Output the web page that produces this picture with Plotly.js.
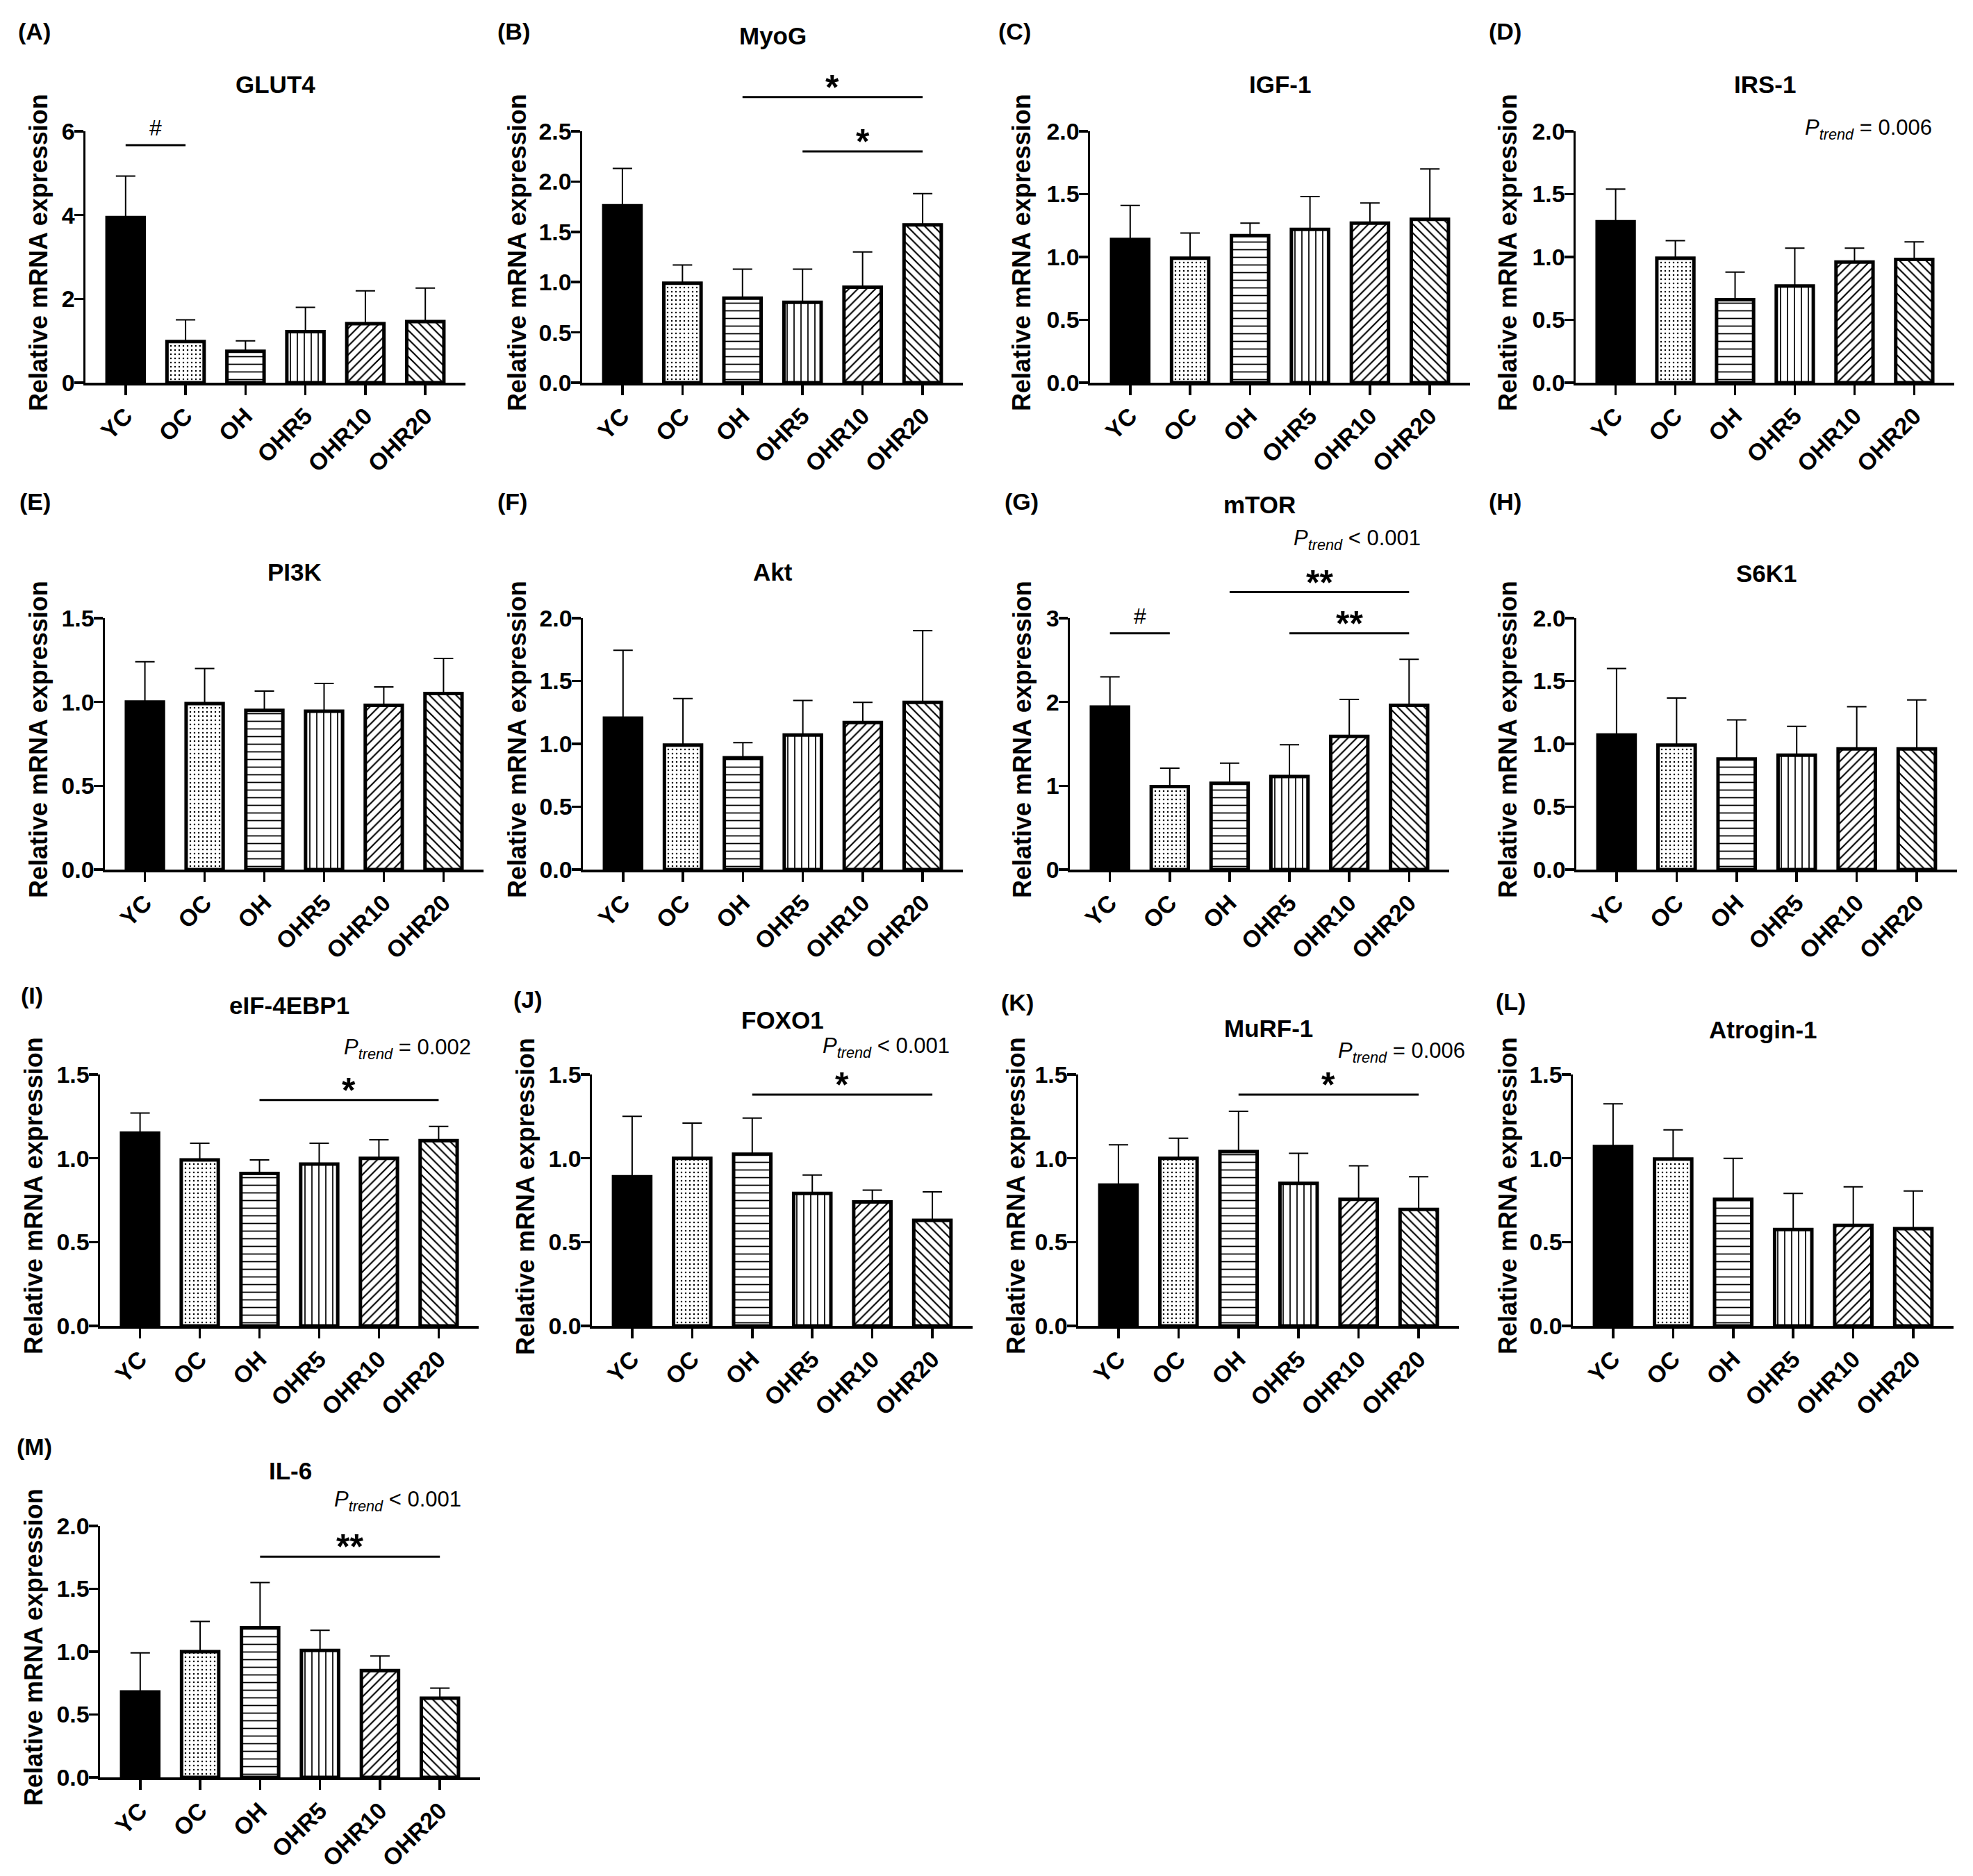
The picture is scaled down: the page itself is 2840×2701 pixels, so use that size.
<!DOCTYPE html>
<html>
<head>
<meta charset="utf-8">
<script src="https://cdn.plot.ly/plotly-3.0.1.min.js"></script>
<style>
  html, body { margin: 0; padding: 0; background: #ffffff; }
  #chart { width: 2840px; height: 2701px; }
</style>
</head>
<body>
<div id="chart"></div>
<script>
// Treatment groups (x categories shared by every panel)
const groups = ['YC', 'OC', 'OH', 'OHR5', 'OHR10', 'OHR20'];

// Relative mRNA expression: group means and SD (upper error bar length)
const glut4Mean = [3.94, 0.98, 0.75, 1.22, 1.41, 1.46];
const glut4Sd   = [0.99, 0.52, 0.25, 0.58, 0.78, 0.80];
const myogMean  = [1.76, 0.99, 0.84, 0.80, 0.95, 1.57];
const myogSd    = [0.37, 0.18, 0.29, 0.33, 0.35, 0.31];
const igf1Mean  = [1.14, 0.99, 1.17, 1.22, 1.27, 1.30];
const igf1Sd    = [0.27, 0.20, 0.10, 0.26, 0.16, 0.40];
const irs1Mean  = [1.28, 0.99, 0.66, 0.77, 0.96, 0.98];
const irs1Sd    = [0.26, 0.14, 0.22, 0.30, 0.11, 0.14];
const pi3kMean  = [1.00, 0.99, 0.95, 0.945, 0.98, 1.05];
const pi3kSd    = [0.24, 0.21, 0.115, 0.165, 0.11, 0.21];
const aktMean   = [1.205, 0.99, 0.89, 1.07, 1.17, 1.33];
const aktSd     = [0.54, 0.37, 0.12, 0.275, 0.16, 0.57];
const mtorMean  = [1.94, 0.99, 1.03, 1.11, 1.59, 1.96];
const mtorSd    = [0.36, 0.22, 0.24, 0.38, 0.44, 0.55];
const s6k1Mean  = [1.07, 0.99, 0.88, 0.91, 0.96, 0.96];
const s6k1Sd    = [0.53, 0.375, 0.31, 0.23, 0.335, 0.39];
const eif4ebp1Mean = [1.15, 0.99, 0.91, 0.965, 1.00, 1.105];
const eif4ebp1Sd   = [0.12, 0.10, 0.08, 0.125, 0.11, 0.085];
const foxo1Mean = [0.89, 1.00, 1.025, 0.79, 0.74, 0.63];
const foxo1Sd   = [0.36, 0.21, 0.215, 0.11, 0.07, 0.17];
const murf1Mean = [0.84, 1.00, 1.04, 0.85, 0.755, 0.695];
const murf1Sd   = [0.24, 0.12, 0.24, 0.18, 0.20, 0.195];
const atroginMean = [1.07, 0.995, 0.755, 0.575, 0.60, 0.58];
const atroginSd   = [0.255, 0.175, 0.245, 0.215, 0.23, 0.225];
const il6Mean   = [0.68, 1.00, 1.19, 1.01, 0.85, 0.63];
const il6Sd     = [0.31, 0.24, 0.36, 0.16, 0.115, 0.08];

// Y tick values and labels
const ticks6    = [0, 2, 4, 6];
const ticks6Txt = ['0', '2', '4', '6'];
const ticks3    = [0, 1, 2, 3];
const ticks3Txt = ['0', '1', '2', '3'];
const ticks25    = [0, 0.5, 1, 1.5, 2, 2.5];
const ticks25Txt = ['0.0', '0.5', '1.0', '1.5', '2.0', '2.5'];
const ticks20    = [0, 0.5, 1, 1.5, 2];
const ticks20Txt = ['0.0', '0.5', '1.0', '1.5', '2.0'];
const ticks15    = [0, 0.5, 1, 1.5];
const ticks15Txt = ['0.0', '0.5', '1.0', '1.5'];

// Significance brackets: [from group, to group, height, symbol]
const glut4Sig = [['YC', 'OC', 5.67, '#']];
const myogSig  = [['OH', 'OHR20', 2.84, '*'], ['OHR5', 'OHR20', 2.30, '*']];
const mtorSig  = [['YC', 'OC', 2.82, '#'], ['OHR5', 'OHR20', 2.82, '**'], ['OH', 'OHR20', 3.31, '**']];
const eifSig   = [['OH', 'OHR20', 1.348, '*']];
const foxo1Sig = [['OH', 'OHR20', 1.38, '*']];
const murf1Sig = [['OH', 'OHR20', 1.38, '*']];
const il6Sig   = [['OH', 'OHR20', 1.755, '**']];

// Trend test results
const trendIrs1 = '= 0.006';
const trendMtor = '< 0.001';
const trendEif  = '= 0.002';
const trendFoxo = '< 0.001';
const trendMurf = '= 0.006';
const trendIl6  = '< 0.001';

// Panel layout in pixels: plot box (left, right, top tick, baseline),
// title centre y, panel letter (left x, centre y), y-title centre x
const panels = [
  {tag: '(A)', gene: 'GLUT4',     mean: glut4Mean, sd: glut4Sd, ymax: 6,   tv: ticks6,  tt: ticks6Txt,  sig: glut4Sig, box: [123, 670, 189, 551],   ttl: 121,  lab: [24, 45],    yt: 55},
  {tag: '(B)', gene: 'MyoG',      mean: myogMean,  sd: myogSd,  ymax: 2.5, tv: ticks25, tt: ticks25Txt, sig: myogSig,  box: [838, 1386, 189, 551],  ttl: 52,   lab: [714, 45],   yt: 744},
  {tag: '(C)', gene: 'IGF-1',     mean: igf1Mean,  sd: igf1Sd,  ymax: 2,   tv: ticks20, tt: ticks20Txt, sig: [],       box: [1569, 2116, 189, 551], ttl: 121,  lab: [1435, 45],  yt: 1470},
  {tag: '(D)', gene: 'IRS-1',     mean: irs1Mean,  sd: irs1Sd,  ymax: 2,   tv: ticks20, tt: ticks20Txt, sig: [],       box: [2268, 2813, 189, 551], ttl: 121,  lab: [2141, 45],  yt: 2170, trend: trendIrs1, tpos: [2783, 186]},
  {tag: '(E)', gene: 'PI3K',      mean: pi3kMean,  sd: pi3kSd,  ymax: 1.5, tv: ticks15, tt: ticks15Txt, sig: [],       box: [151, 696, 890, 1252],  ttl: 823,  lab: [26, 722],   yt: 55},
  {tag: '(F)', gene: 'Akt',       mean: aktMean,   sd: aktSd,   ymax: 2,   tv: ticks20, tt: ticks20Txt, sig: [],       box: [839, 1386, 890, 1252], ttl: 824,  lab: [714, 722],  yt: 744},
  {tag: '(G)', gene: 'mTOR',      mean: mtorMean,  sd: mtorSd,  ymax: 3,   tv: ticks3,  tt: ticks3Txt,  sig: mtorSig,  box: [1540, 2086, 890, 1252], ttl: 726, lab: [1444, 722], yt: 1471, trend: trendMtor, tpos: [2047, 777]},
  {tag: '(H)', gene: 'S6K1',      mean: s6k1Mean,  sd: s6k1Sd,  ymax: 2,   tv: ticks20, tt: ticks20Txt, sig: [],       box: [2269, 2817, 890, 1252], ttl: 825, lab: [2141, 722], yt: 2170},
  {tag: '(I)', gene: 'eIF-4EBP1', mean: eif4ebp1Mean, sd: eif4ebp1Sd, ymax: 1.5, tv: ticks15, tt: ticks15Txt, sig: eifSig, box: [144, 689, 1547, 1909], ttl: 1447, lab: [28, 1433], yt: 48, trend: trendEif, tpos: [680, 1510]},
  {tag: '(J)', gene: 'FOXO1',     mean: foxo1Mean, sd: foxo1Sd, ymax: 1.5, tv: ticks15, tt: ticks15Txt, sig: foxo1Sig, box: [852, 1400, 1547, 1909], ttl: 1469, lab: [737, 1439], yt: 756, trend: trendFoxo, tpos: [1369, 1508]},
  {tag: '(K)', gene: 'MuRF-1',    mean: murf1Mean, sd: murf1Sd, ymax: 1.5, tv: ticks15, tt: ticks15Txt, sig: murf1Sig, box: [1552, 2100, 1547, 1909], ttl: 1480, lab: [1439, 1443], yt: 1462, trend: trendMurf, tpos: [2111, 1515]},
  {tag: '(L)', gene: 'Atrogin-1', mean: atroginMean, sd: atroginSd, ymax: 1.5, tv: ticks15, tt: ticks15Txt, sig: [], box: [2264, 2812, 1547, 1909], ttl: 1482, lab: [2151, 1442], yt: 2170},
  {tag: '(M)', gene: 'IL-6',      mean: il6Mean,   sd: il6Sd,   ymax: 2,   tv: ticks20, tt: ticks20Txt, sig: il6Sig,   box: [144, 691, 2197, 2559], ttl: 2117, lab: [22, 2083], yt: 48, trend: trendIl6, tpos: [666, 2161]}
];

// Bar fills for the patterned groups (OC..OHR20): dots, horizontal, vertical, two diagonals
const fillShapes = ['.', '-', '|', '/', '\\'];
const fillSizes  = [6, 11, 10, 9, 9];
const fillSolid  = [0.14, 0.16, 0.17, 0.24, 0.24];

const W = 2840, H = 2701;
const FONT = 'Liberation Sans, Arial, Helvetica, sans-serif';
const fx = px => px / W;
const fy = py => 1 - py / H;

const traces = [];
const annotations = [];
const layout = {
  width: W, height: H,
  margin: {l: 0, r: 0, t: 0, b: 0},
  paper_bgcolor: '#ffffff', plot_bgcolor: 'rgba(0,0,0,0)',
  showlegend: false, barmode: 'overlay',
  font: {family: FONT, color: '#000000'}
};

const errStyle = {color: '#000', thickness: 2, width: 14};

panels.forEach((p, k) => {
  const xId = k === 0 ? 'x' : 'x' + (k + 1);
  const yId = k === 0 ? 'y' : 'y' + (k + 1);
  const y2Id = 'y' + (k + 14);
  const [L, R, T, B] = p.box;
  const topExtra = Math.max(T - 230, 4);

  layout[k === 0 ? 'xaxis' : 'xaxis' + (k + 1)] = {
    domain: [fx(L), fx(R)], anchor: yId, type: 'category',
    categoryorder: 'array', categoryarray: groups,
    range: [-0.67, 5.67], fixedrange: true,
    showline: true, linewidth: 3.5, linecolor: '#000',
    ticks: 'outside', ticklen: 14, tickwidth: 3.5, tickcolor: '#000',
    tickangle: -45, ticklabelstandoff: -3, showgrid: false, zeroline: false,
    tickfont: {family: FONT, size: 34, weight: 'bold', color: '#000'}
  };
  layout[k === 0 ? 'yaxis' : 'yaxis' + (k + 1)] = {
    domain: [fy(B), fy(T)], anchor: xId,
    range: [0, p.ymax], fixedrange: true,
    tickmode: 'array', tickvals: p.tv, ticktext: p.tt,
    showline: true, linewidth: 3.5, linecolor: '#000',
    ticks: 'outside', ticklen: 13, tickwidth: 3.5, tickcolor: '#000',
    ticklabelstandoff: -8,
    showgrid: false, zeroline: false,
    tickfont: {family: FONT, size: 34, weight: 'bold', color: '#000'}
  };
  // Taller companion axis sharing the same data scale, used for brackets above the plot
  layout['yaxis' + (k + 14)] = {
    domain: [fy(B), fy(topExtra)], anchor: xId,
    range: [0, p.ymax * (B - topExtra) / (B - T)],
    visible: false, fixedrange: true, showgrid: false, zeroline: false
  };

  // Young control: solid black bar
  traces.push({
    type: 'bar', x: groups.slice(0, 1), y: p.mean.slice(0, 1), xaxis: xId, yaxis: yId,
    width: 0.62,
    marker: {color: '#000', line: {color: '#000', width: 5}},
    error_y: Object.assign({type: 'data', symmetric: false, array: p.sd.slice(0, 1), arrayminus: [0]}, errStyle),
    hoverinfo: 'skip', showlegend: false
  });
  // Remaining groups: patterned white bars
  traces.push({
    type: 'bar', x: groups.slice(1), y: p.mean.slice(1), xaxis: xId, yaxis: yId,
    width: 0.62,
    marker: {
      color: '#ffffff',
      line: {color: '#000', width: 5},
      pattern: {shape: fillShapes, fgcolor: '#000', bgcolor: '#ffffff',
                size: fillSizes, solidity: fillSolid, fillmode: 'replace'}
    },
    error_y: Object.assign({type: 'data', symmetric: false, array: p.sd.slice(1),
                            arrayminus: p.sd.slice(1).map(() => 0)}, errStyle),
    hoverinfo: 'skip', showlegend: false
  });

  p.sig.forEach(([from, to, h, sym]) => {
    traces.push({
      type: 'scatter', mode: 'lines', x: [from, to], y: [h, h],
      xaxis: xId, yaxis: y2Id,
      line: {color: '#000', width: 3},
      hoverinfo: 'skip', showlegend: false
    });
    const isHash = sym === '#';
    annotations.push({
      xref: xId, yref: y2Id,
      x: (groups.indexOf(from) + groups.indexOf(to)) / 2, y: h,
      text: sym, showarrow: false, xanchor: 'center', yanchor: 'middle',
      yshift: isHash ? 25 : 14,
      font: {family: FONT, size: isHash ? 32 : 50, weight: isHash ? 'normal' : 'bold', color: '#000'}
    });
  });

  // Gene title
  annotations.push({
    xref: 'paper', yref: 'paper', x: fx((L + R) / 2), y: fy(p.ttl),
    text: p.gene, showarrow: false, xanchor: 'center', yanchor: 'middle',
    font: {family: FONT, size: 35, weight: 'bold', color: '#000'}
  });
  // Panel letter
  annotations.push({
    xref: 'paper', yref: 'paper', x: fx(p.lab[0]), y: fy(p.lab[1]),
    text: p.tag, showarrow: false, xanchor: 'left', yanchor: 'middle',
    font: {family: FONT, size: 34, weight: 'bold', color: '#000'}
  });
  // Y axis title
  annotations.push({
    xref: 'paper', yref: 'paper', x: fx(p.yt), y: fy((T + B) / 2 - 6),
    text: 'Relative mRNA expression', showarrow: false, textangle: -90,
    xanchor: 'center', yanchor: 'middle',
    font: {family: FONT, size: 36, weight: 'bold', color: '#000'}
  });
  // Trend test
  if (p.trend) {
    annotations.push({
      xref: 'paper', yref: 'paper', x: fx(p.tpos[0]), y: fy(p.tpos[1]),
      text: '<i>P</i><sub><i>trend</i></sub> ' + p.trend,
      showarrow: false, xanchor: 'right', yanchor: 'middle',
      font: {family: FONT, size: 31, color: '#000'}
    });
  }
});

layout.annotations = annotations;

Plotly.newPlot('chart', traces, layout, {staticPlot: true, displayModeBar: false});
</script>
</body>
</html>
